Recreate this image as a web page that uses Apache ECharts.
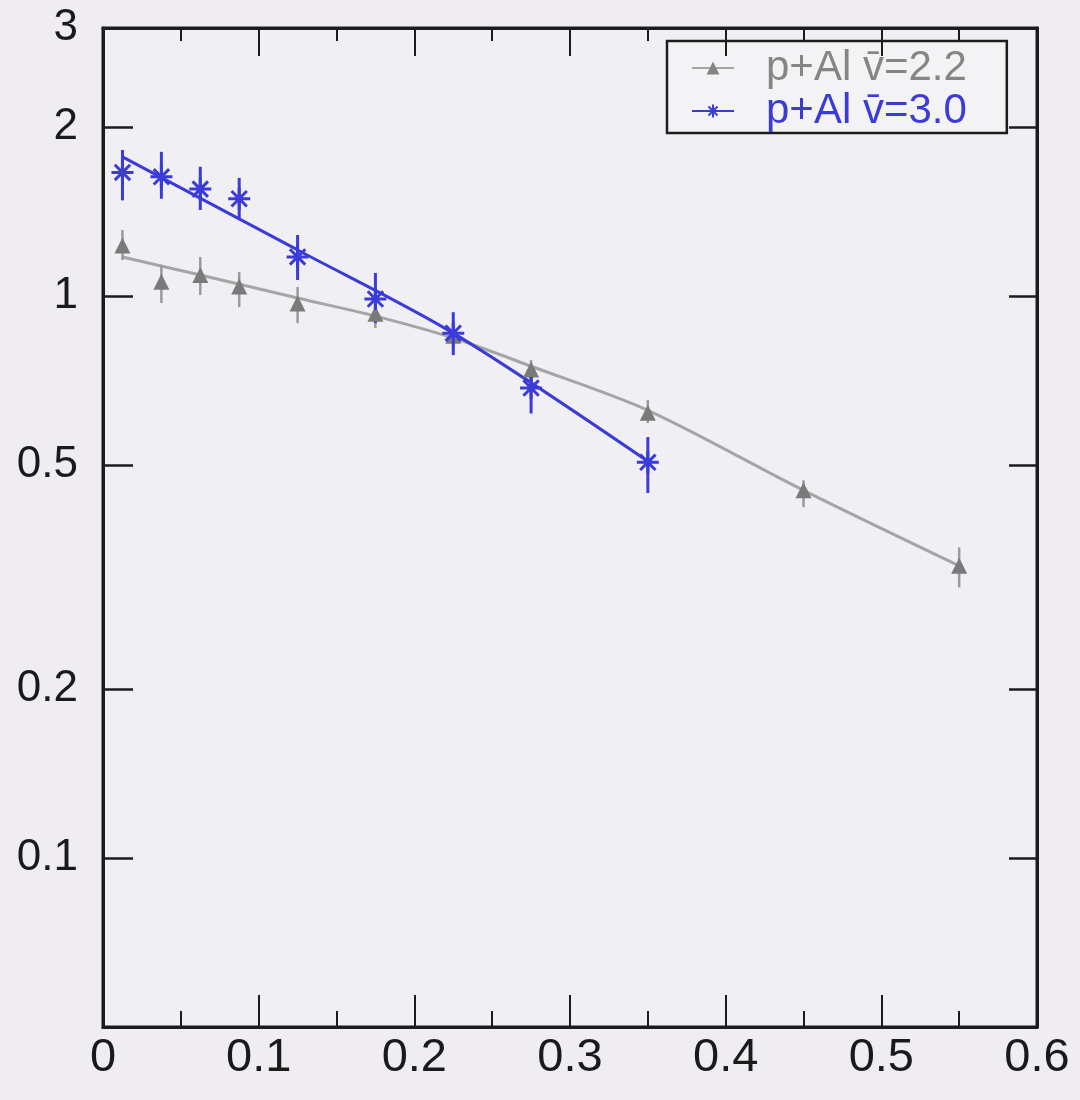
<!DOCTYPE html>
<html>
<head>
<meta charset="utf-8">
<script src="https://cdn.jsdelivr.net/npm/echarts@6/dist/echarts.min.js"></script>
<style>
  html, body { margin: 0; padding: 0; background: #efedf2; }
  #chart { width: 1080px; height: 1100px; }
</style>
</head>
<body>
<div id="chart"></div>
<script>
// p+Al ratio versus x, two centrality classes (log y axis)
const xLow = [0.0125, 0.0375, 0.0625, 0.0875, 0.125, 0.175, 0.225, 0.275, 0.35, 0.45, 0.55];
const yLow = [1.23, 1.06, 1.09, 1.04, 0.97, 0.93, 0.85, 0.74, 0.62, 0.451, 0.331];
const yLowErrMin = [1.159, 0.972, 1.004, 0.956, 0.895, 0.877, 0.801, 0.694, 0.594, 0.421, 0.303];
const yLowErrMax = [1.311, 1.136, 1.174, 1.104, 1.038, 0.984, 0.899, 0.769, 0.653, 0.470, 0.357];

const xHigh = [0.0125, 0.0375, 0.0625, 0.0875, 0.125, 0.175, 0.225, 0.275, 0.35];
const yHigh = [1.66, 1.63, 1.55, 1.49, 1.174, 0.988, 0.859, 0.686, 0.506];
const yHighErrMin = [1.48, 1.49, 1.423, 1.366, 1.068, 0.895, 0.785, 0.618, 0.446];
const yHighErrMax = [1.82, 1.806, 1.699, 1.623, 1.284, 1.099, 0.936, 0.753, 0.561];

// fitted curves
const fitLowX = [0.0125, 0.0625, 0.125, 0.175, 0.225, 0.275, 0.35, 0.45, 0.55];
const fitLowY = [1.174, 1.09, 0.992, 0.921, 0.842, 0.75, 0.626, 0.451, 0.331];
const fitHighX = [0.0125, 0.125, 0.225, 0.35];
const fitHighY = [1.769, 1.208, 0.859, 0.508];

const yLabelValues = [0.1, 0.2, 0.5, 1, 2, 3];
const yTickValues = [0.1, 0.2, 0.5, 1, 2];

const nameLow = 'p+Al v\u0304=2.2';
const nameHigh = 'p+Al v\u0304=3.0';

const grayColor = '#858585';
const grayLine = '#a5a5a5';
const blueColor = '#3b3bd8';
const frameColor = '#1c1c1c';

const zip = (a, b) => a.map((v, i) => [v, b[i]]);
const zip3 = (a, b, c) => a.map((v, i) => [v, b[i], c[i]]);

const starPath = 'path://M0,-10L0,10M-10,0L10,0M-7,-7L7,7M-7,7L7,-7';

function errorBars(color, width) {
  return function (params, api) {
    const x = api.value(0);
    const p1 = api.coord([x, api.value(1)]);
    const p2 = api.coord([x, api.value(2)]);
    return {
      type: 'line',
      shape: { x1: p1[0], y1: p1[1], x2: p2[0], y2: p2[1] },
      style: { stroke: color, lineWidth: width }
    };
  };
}

const axisLineStyle = { show: true, onZero: false, lineStyle: { color: frameColor, width: 3 } };

const chart = echarts.init(document.getElementById('chart'));
chart.setOption({
  backgroundColor: '#efedf2',
  animation: false,
  grid: {
    left: 103, right: 43, top: 28, bottom: 73,
    show: true, borderColor: frameColor, borderWidth: 3, backgroundColor: '#f0eff3'
  },
  legend: {
    orient: 'vertical',
    left: 667, top: 41,
    padding: [6, 40, 1, 24],
    itemWidth: 42, itemHeight: 16, itemGap: 1,
    backgroundColor: '#f3f2f5',
    borderColor: frameColor, borderWidth: 2.5, borderRadius: 0,
    z: 1,
    data: [
      { name: nameLow, textStyle: { color: grayColor } },
      { name: nameHigh, textStyle: { color: blueColor } }
    ],
    textStyle: { fontFamily: 'Liberation Sans', fontSize: 42, lineHeight: 40, padding: [0, 0, 0, 27] }
  },
  xAxis: [
    {
      type: 'value', min: 0, max: 0.6, interval: 0.1, position: 'bottom',
      axisLine: axisLineStyle,
      axisTick: { inside: true, length: 32, lineStyle: { color: frameColor, width: 2 } },
      minorTick: { show: true, splitNumber: 2, length: 16, lineStyle: { color: frameColor, width: 2 } },
      splitLine: { show: false },
      axisLabel: {
        margin: 8, fontFamily: 'Liberation Sans', fontSize: 47, color: '#1a1a1a',
        formatter: v => String(+v.toFixed(1))
      },
      z: 5
    },
    {
      type: 'value', min: 0, max: 0.6, interval: 0.1, position: 'top',
      axisLine: axisLineStyle,
      axisTick: { inside: true, length: 28, lineStyle: { color: frameColor, width: 2 } },
      minorTick: { show: true, splitNumber: 2, length: 13, lineStyle: { color: frameColor, width: 2 } },
      splitLine: { show: false },
      axisLabel: { show: false },
      z: 5
    }
  ],
  yAxis: [
    {
      type: 'log', min: 0.05, max: 3, position: 'left',
      axisLine: axisLineStyle,
      axisTick: { inside: true, length: 30, customValues: yTickValues, lineStyle: { color: frameColor, width: 2.5 } },
      minorTick: { show: false },
      splitLine: { show: false },
      axisLabel: {
        margin: 25, customValues: yLabelValues, fontFamily: 'Liberation Sans', fontSize: 44, color: '#1a1a1a',
        formatter: v => String(v)
      },
      z: 5
    },
    {
      type: 'log', min: 0.05, max: 3, position: 'right',
      axisLine: axisLineStyle,
      axisTick: { inside: true, length: 28, customValues: yTickValues, lineStyle: { color: frameColor, width: 2.5 } },
      minorTick: { show: false },
      splitLine: { show: false },
      axisLabel: { show: false },
      z: 5
    }
  ],
  series: [
    {
      name: nameLow, type: 'line', data: zip(fitLowX, fitLowY),
      smooth: 0.3, showSymbol: false, symbol: 'triangle', symbolSize: 14,
      lineStyle: { color: grayLine, width: 3 },
      itemStyle: { color: grayColor },
      z: 2
    },
    {
      name: nameHigh, type: 'line', data: zip(fitHighX, fitHighY),
      smooth: 0.3, showSymbol: false, symbol: starPath, symbolSize: 18,
      lineStyle: { color: blueColor, width: 3 },
      itemStyle: { color: blueColor, borderColor: blueColor, borderWidth: 2.5 },
      z: 2
    },
    {
      name: nameLow + ' err', type: 'custom', data: zip3(xLow, yLowErrMin, yLowErrMax),
      encode: { x: 0, y: [1, 2] }, renderItem: errorBars('#9a9a9a', 2.5), z: 3
    },
    {
      name: nameHigh + ' err', type: 'custom', data: zip3(xHigh, yHighErrMin, yHighErrMax),
      encode: { x: 0, y: [1, 2] }, renderItem: errorBars(blueColor, 3), z: 3
    },
    {
      name: nameLow + ' pts', type: 'scatter', data: zip(xLow, yLow),
      symbol: 'triangle', symbolSize: 16,
      itemStyle: { color: '#7a7a7a', opacity: 1 }, z: 4
    },
    {
      name: nameHigh + ' pts', type: 'scatter', data: zip(xHigh, yHigh),
      symbol: starPath, symbolSize: 22,
      itemStyle: { color: blueColor, borderColor: blueColor, borderWidth: 3, opacity: 1 }, z: 4
    }
  ]
});
</script>
</body>
</html>
